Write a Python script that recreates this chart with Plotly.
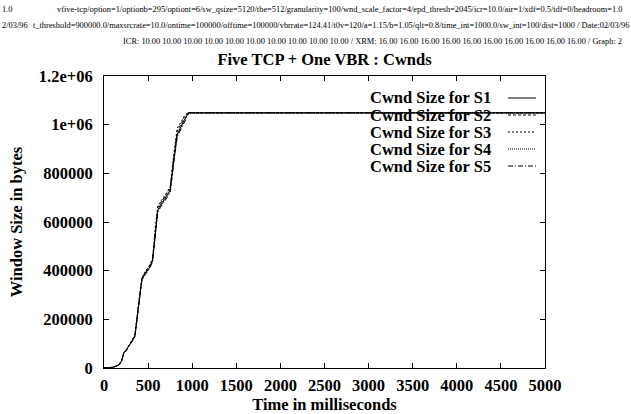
import plotly.graph_objects as go

# temps (ms) et tailles de fenetre (octets)
t_s1 = [0, 100, 140, 175, 200, 215, 225, 250, 300, 350, 390, 430, 470, 510, 550, 580, 610, 640, 700, 750, 790, 830, 870, 910, 960, 5000]
w_s1 = [0, 3000, 8000, 15000, 30000, 50000, 62000, 72000, 100000, 130000, 250000, 365000, 390000, 410000, 440000, 560000, 650000, 670000, 700000, 730000, 850000, 960000, 990000, 1020000, 1048576, 1048576]

t_s2 = [0, 100, 140, 175, 200, 215, 225, 250, 300, 350, 390, 430, 470, 510, 550, 580, 610, 640, 700, 750, 790, 830, 870, 910, 950, 5000]
w_s2 = [0, 3000, 8500, 16000, 32000, 52000, 63000, 73000, 102000, 133000, 255000, 370000, 395000, 415000, 445000, 570000, 660000, 678000, 708000, 738000, 865000, 975000, 1000000, 1030000, 1048576, 1048576]

t_s3 = [0, 100, 140, 175, 200, 215, 225, 250, 300, 350, 390, 430, 470, 510, 550, 580, 610, 640, 700, 750, 790, 830, 870, 910, 945, 5000]
w_s3 = [0, 3000, 9000, 17000, 33000, 54000, 64000, 74000, 103000, 135000, 258000, 372000, 398000, 418000, 448000, 575000, 665000, 684000, 714000, 745000, 875000, 985000, 1008000, 1036000, 1048576, 1048576]

t_s4 = [0, 100, 140, 175, 200, 215, 225, 250, 300, 350, 390, 430, 470, 510, 550, 580, 610, 640, 700, 750, 790, 830, 870, 910, 955, 5000]
w_s4 = [0, 2800, 7800, 14500, 29000, 48000, 61000, 71000, 99000, 128000, 248000, 362000, 387000, 407000, 437000, 555000, 645000, 665000, 695000, 725000, 845000, 955000, 985000, 1015000, 1048576, 1048576]

t_s5 = [0, 100, 140, 175, 200, 215, 225, 250, 300, 350, 390, 430, 470, 510, 550, 580, 610, 640, 700, 750, 790, 830, 870, 910, 965, 5000]
w_s5 = [0, 2900, 7500, 14000, 28000, 47000, 60000, 70000, 98000, 127000, 245000, 360000, 385000, 405000, 435000, 552000, 640000, 660000, 690000, 720000, 840000, 950000, 980000, 1010000, 1048576, 1048576]

series_names = ["Cwnd Size for S1", "Cwnd Size for S2", "Cwnd Size for S3", "Cwnd Size for S4", "Cwnd Size for S5"]
series_dash = ["solid", "3px,2px", "2px,2px", "1px,1px", "5px,2px,1px,2px"]

x_ticks = [0, 500, 1000, 1500, 2000, 2500, 3000, 3500, 4000, 4500, 5000]
y_ticks = [0, 200000, 400000, 600000, 800000, 1000000, 1200000]
y_ticktext = ["0", "200000", "400000", "600000", "800000", "1e+06", "1.2e+06"]

header_1 = "vfive-tcp/option=1/optionb=295/optiont=6/sw_qsize=5120/tbe=512/granularity=100/wnd_scale_factor=4/epd_thresh=2045/icr=10.0/air=1/xdf=0.5/tdf=0/headroom=1.0"
header_2 = "t_threshold=900000.0/maxsrcrate=10.0/ontime=100000/offtime=100000/vbrrate=124.41/t0v=120/a=1.15/b=1.05/qlt=0.8/time_int=1000.0/sw_int=100/dist=1000 / Date:02/03/96"
header_3 = "ICR: 10.00 10.00 10.00 10.00 10.00 10.00 10.00 10.00 10.00 10.00 / XRM: 16.00 16.00 16.00 16.00 16.00 16.00 16.00 16.00 16.00 16.00 / Graph: 2"

FONT = "Liberation Serif"

# position du cadre en pixels
L, R, T, B = 104, 545, 76, 368
W, H = 631, 414


def px(x):
    return (x - L) / (R - L)


def py(y):
    return (B - y) / (B - T)


fig = go.Figure()
data = [(t_s1, w_s1), (t_s2, w_s2), (t_s3, w_s3), (t_s4, w_s4), (t_s5, w_s5)]
for (t, w), nom, dash in zip(data, series_names, series_dash):
    fig.add_trace(go.Scatter(x=t, y=w, mode="lines", name=nom,
                             line=dict(color="black", width=1, dash=dash)))

# legende a la gnuplot : texte a gauche, trait a droite
annotations = []
shapes = []
for i, (nom, dash) in enumerate(zip(series_names, series_dash)):
    yy = 98 + i * 17
    annotations.append(dict(text=nom, x=px(493), y=py(yy), xref="paper", yref="paper",
                            xanchor="right", yanchor="middle", showarrow=False,
                            font=dict(family=FONT, size=16.5, color="black", weight="bold")))
    shapes.append(dict(type="line", xref="paper", yref="paper", x0=px(508), x1=px(536),
                       y0=py(yy), y1=py(yy), line=dict(color="black", width=1, dash=dash)))

# entete
small = dict(family=FONT, size=8.4, color="black")
for txt, x, y, anc in [("1.0", 0, 9, "left"), (header_1, 624, 9, "right"),
                       ("2/03/96", 0, 26, "left"), (header_2, 631, 26, "right"),
                       (header_3, 624, 42, "right")]:
    annotations.append(dict(text=txt, x=px(x), y=py(y), xref="paper", yref="paper",
                            xanchor=anc, yanchor="middle", showarrow=False, font=small))

bold = dict(family=FONT, size=16.5, color="black", weight="bold")
axis_common = dict(showline=True, linecolor="black", linewidth=1, mirror="ticks",
                   ticks="inside", ticklen=5, tickcolor="black", showgrid=False, zeroline=False,
                   tickfont=bold, automargin=False)

fig.update_layout(
    width=W, height=H,
    margin=dict(l=L, r=W - R, t=T, b=H - B),
    paper_bgcolor="white", plot_bgcolor="white",
    showlegend=False,
    title=dict(text="Five TCP + One VBR : Cwnds", x=0.5, xref="paper", y=1 - 59 / H, yref="container",
               xanchor="center", yanchor="middle",
               font=dict(family=FONT, size=16.5, color="black", weight="bold")),
    xaxis=dict(range=[0, 5000], tickvals=x_ticks, ticklabelstandoff=2,
               title=dict(text="Time in milliseconds", standoff=3,
                          font=dict(family=FONT, size=16.5, color="black", weight="bold")),
               **axis_common),
    yaxis=dict(range=[0, 1200000], tickvals=y_ticks, ticktext=y_ticktext, ticklabelstandoff=7,
               title=dict(text="Window Size in bytes", standoff=12,
                          font=dict(family=FONT, size=16.5, color="black", weight="bold")),
               **axis_common),
    annotations=annotations,
    shapes=shapes,
)

fig.write_html("out.html", config={"displayModeBar": False},
               post_script="document.body.style.margin='0px';")
